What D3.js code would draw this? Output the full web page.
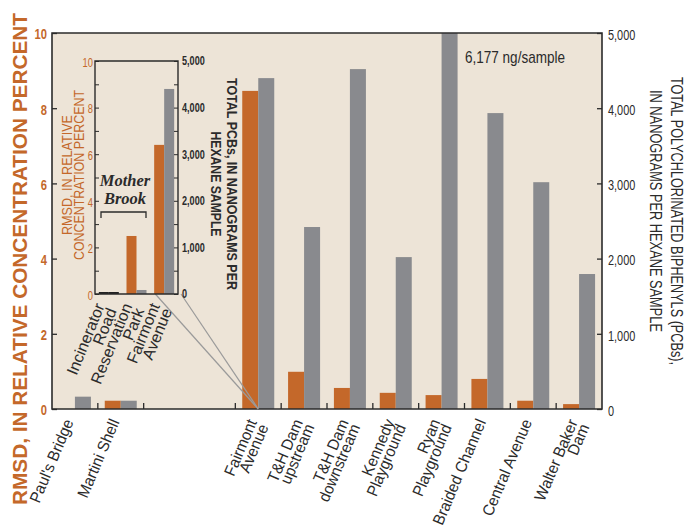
<!DOCTYPE html>
<html><head><meta charset="utf-8">
<script src="https://cdn.jsdelivr.net/npm/d3@7/dist/d3.min.js"></script>
<style>
html,body{margin:0;padding:0;background:#fff;}
svg{display:block;}
</style></head><body>
<svg id="chart" width="687" height="527" font-family="'Liberation Sans', Arial, sans-serif"></svg>
<script>
// ---------- DATA ----------
const mainSites = ["Paul's Bridge","Martini Shell","gap1","gap2","Fairmont Avenue","T&H Dam upstream","T&H Dam downstream","Kennedy Playground","Ryan Playground","Braided Channel","Central Avenue","Walter Baker Dam"];
const mainLabels = [["Paul's Bridge"],["Martini Shell"],[],[],["Fairmont","Avenue"],["T&H Dam","upstream"],["T&H Dam","downstream"],["Kennedy","Playground"],["Ryan","Playground"],["Braided Channel"],["Central Avenue"],["Walter Baker","Dam"]];
const mainRmsd = [null,0.22,null,null,8.46,0.99,0.56,0.43,0.37,0.80,0.22,0.13];
const mainPcb  = [164,110,null,null,4400,2420,4520,2020,6177,3935,3016,1795];

const insetSites = ["Incinerator Road","Reservation Park","Fairmont Avenue"];
const insetLabels = [["Incinerator","Road"],["Reservation","Park"],["Fairmont","Avenue"]];
const insetRmsd = [0.03,2.49,6.4];
const insetPcb  = [15,86,4400];

const rmsdTicks = [0,2,4,6,8,10];
const pcbTicks = [0,1000,2000,3000,4000,5000];
const annotation = "6,177 ng/sample";

// ---------- STYLE ----------
const ORANGE = "#C4682A", GRAY = "#898A8E", BG = "#EDE4D7", INK = "#2b2b2b";
const svg = d3.select("#chart");

// ---------- MAIN ----------
const M = {l:52, r:602, t:33, b:409};
const x = d3.scaleBand().domain(mainSites).range([M.l, M.r]).padding(0);
const yL = d3.scaleLinear().domain([0,10]).range([M.b, M.t]);
const yR = d3.scaleLinear().domain([0,5000]).range([M.b, M.t]);
const bw = 16;

svg.append("rect").attr("x",M.l).attr("y",M.t).attr("width",M.r-M.l).attr("height",M.b-M.t).attr("fill",BG);
svg.append("clipPath").attr("id","clipMain").append("rect").attr("x",M.l).attr("y",M.t).attr("width",M.r-M.l).attr("height",M.b-M.t);

const gBars = svg.append("g").attr("clip-path","url(#clipMain)");
mainSites.forEach((s,i)=>{
  const c = x(s) + x.bandwidth()/2;
  if (mainRmsd[i]!=null && mainRmsd[i]>0)
    gBars.append("rect").attr("x",c-bw).attr("width",bw).attr("y",yL(mainRmsd[i])).attr("height",yL(0)-yL(mainRmsd[i])).attr("fill",ORANGE);
  if (mainPcb[i]!=null)
    gBars.append("rect").attr("x",c).attr("width",bw).attr("y",yR(Math.min(mainPcb[i],5000))).attr("height",yR(0)-yR(Math.min(mainPcb[i],5000))).attr("fill",GRAY);
});

// x ticks between slots (skip boundaries between two empty slots)
const gx = svg.append("g").attr("stroke",INK).attr("stroke-width",1.3);
for (let i=1;i<mainSites.length;i++){
  if (mainSites[i-1].startsWith("gap") && mainSites[i].startsWith("gap")) continue;
  const bx = x(mainSites[i]);
  gx.append("line").attr("x1",bx).attr("x2",bx).attr("y1",M.b).attr("y2",M.b-6);
}

// left axis
const axL = svg.append("g").attr("transform",`translate(${M.l},0)`)
  .call(d3.axisLeft(yL).tickValues(rmsdTicks).tickSize(-5).tickFormat(d3.format("d")));
axL.select(".domain").remove();
axL.selectAll(".tick line").attr("stroke",INK).attr("stroke-width",1.3);
axL.selectAll("text").attr("fill",ORANGE).attr("font-size",14).attr("font-weight","bold")
  .attr("x",0).attr("dy","0.42em").attr("transform","translate(-5,0) scale(0.8,1)");

// right axis
const axR = svg.append("g").attr("transform",`translate(${M.r},0)`)
  .call(d3.axisRight(yR).tickValues(pcbTicks).tickSize(-5).tickFormat(d3.format(",")));
axR.select(".domain").remove();
axR.selectAll(".tick line").attr("stroke",INK).attr("stroke-width",1.3);
axR.selectAll("text").attr("fill",INK).attr("font-size",14)
  .attr("x",0).attr("dy","0.45em").attr("transform","translate(6,0) scale(0.78,1)");

// frame
svg.append("path").attr("d",`M${M.l},${M.b}V${M.t}H${M.r}V${M.b}H${M.l}Z`).attr("fill","none").attr("stroke",INK).attr("stroke-width",1.6);

// x labels
mainSites.forEach((s,i)=>{
  const lines = mainLabels[i]; if(!lines.length) return;
  const c = x(s)+x.bandwidth()/2;
  const t = svg.append("text").attr("transform",`translate(${c-1},${M.b+13}) rotate(-67) scale(0.95,1)`)
    .attr("text-anchor","end").attr("font-size",16).attr("fill",INK);
  lines.forEach((ln,k)=> t.append("tspan").attr("x",0).attr("dy",k?12.5:0).text(ln));
});

// annotation
svg.append("text").attr("x",465).attr("y",63).attr("font-size",17).attr("fill",INK).attr("textLength",100).attr("lengthAdjust","spacingAndGlyphs").text(annotation);

// axis titles
svg.append("text").attr("transform","translate(27,259) rotate(-90)").attr("text-anchor","middle")
  .attr("font-size",20).attr("font-weight","bold").attr("fill",ORANGE).attr("textLength",492).attr("lengthAdjust","spacingAndGlyphs")
  .text("RMSD, IN RELATIVE CONCENTRATION PERCENT");
svg.append("text").attr("transform","translate(671,77) rotate(90)").attr("font-size",16.5).attr("fill",INK)
  .attr("textLength",288).attr("lengthAdjust","spacingAndGlyphs").text("TOTAL POLYCHLORINATED BIPHENYLS (PCBs),");
svg.append("text").attr("transform","translate(650,90) rotate(90)").attr("font-size",16.5).attr("fill",INK)
  .attr("textLength",242).attr("lengthAdjust","spacingAndGlyphs").text("IN NANOGRAMS PER HEXANE SAMPLE");

// ---------- INSET ----------
const I = {l:95, r:178, t:61, b:294};
const xi = d3.scaleBand().domain(insetSites).range([I.l, I.r]).padding(0);
const yiL = d3.scaleLinear().domain([0,10]).range([I.b, I.t]);
const yiR = d3.scaleLinear().domain([0,5000]).range([I.b, I.t]);
const ibw = 10;

// connector lines
const fi = xi("Fairmont Avenue");
const mainF = x("Fairmont Avenue")+x.bandwidth()/2;
svg.append("line").attr("x1",fi+5).attr("y1",I.b).attr("x2",mainF).attr("y2",M.b).attr("stroke","#9a9a9a").attr("stroke-width",1.2);
svg.append("line").attr("x1",I.r+3).attr("y1",I.b).attr("x2",mainF).attr("y2",M.b).attr("stroke","#9a9a9a").attr("stroke-width",1.2);

insetSites.forEach((s,i)=>{
  const c = xi(s)+xi.bandwidth()/2;
  const ho = yiL(0)-yiL(insetRmsd[i]), hg = yiR(0)-yiR(insetPcb[i]);
  const tiny = ho<2 && hg<2;
  svg.append("rect").attr("x",c-ibw).attr("width",ibw).attr("y",I.b-Math.max(ho,tiny?2:0)).attr("height",Math.max(ho,tiny?2:0)).attr("fill",tiny?"#222":ORANGE);
  svg.append("rect").attr("x",c).attr("width",ibw).attr("y",I.b-Math.max(hg,tiny?2:0)).attr("height",Math.max(hg,tiny?2:0)).attr("fill",tiny?"#222":GRAY);
});

const iaxL = svg.append("g").attr("transform",`translate(${I.l},0)`)
  .call(d3.axisLeft(yiL).ticks(10).tickSize(-4).tickFormat(d=> d%2===0? d : ""));
iaxL.select(".domain").remove();
iaxL.selectAll(".tick line").attr("stroke",INK);
iaxL.selectAll("text").attr("fill",ORANGE).attr("font-size",13)
  .attr("x",0).attr("dy","0.4em").attr("transform","translate(-2,0) scale(0.72,1)");

const iaxR = svg.append("g").attr("transform",`translate(${I.r},0)`)
  .call(d3.axisRight(yiR).tickValues(d3.range(0,5001,500)).tickSize(-4).tickFormat(d=> d%1000===0? d3.format(",")(d) : ""));
iaxR.select(".domain").remove();
iaxR.selectAll(".tick line").attr("stroke",INK);
iaxR.selectAll("text").attr("fill",INK).attr("font-size",13).attr("font-weight","bold")
  .attr("x",0).attr("dy","0.3em").attr("transform","translate(4,0) scale(0.7,1)");

svg.append("path").attr("d",`M${I.l},${I.b}V${I.t}H${I.r}V${I.b}H${I.l}Z`).attr("fill","none").attr("stroke",INK).attr("stroke-width",1.4);

insetSites.forEach((s,i)=>{
  const c = xi(s)+xi.bandwidth()/2;
  const t = svg.append("text").attr("transform",`translate(${c-4},${I.b+12}) rotate(-68)`)
    .attr("text-anchor","end").attr("font-size",16).attr("fill",INK);
  insetLabels[i].forEach((ln,k)=> t.append("tspan").attr("x",0).attr("dy",k?13:0).text(ln));
});

// inset titles
const il = svg.append("g").attr("transform","translate(72,175) rotate(-90)");
il.append("text").attr("text-anchor","middle").attr("font-size",15).attr("fill",ORANGE).attr("textLength",120).attr("lengthAdjust","spacingAndGlyphs").text("RMSD, IN RELATIVE");
il.append("text").attr("y",12).attr("text-anchor","middle").attr("font-size",15).attr("fill",ORANGE).attr("textLength",170).attr("lengthAdjust","spacingAndGlyphs").text("CONCENTRATION PERCENT");
const ir = svg.append("g").attr("transform","translate(227,184) rotate(90)");
ir.append("text").attr("text-anchor","middle").attr("font-size",15).attr("font-weight","bold").attr("fill",INK).attr("textLength",212).attr("lengthAdjust","spacingAndGlyphs").text("TOTAL PCBs, IN NANOGRAMS PER");
ir.append("text").attr("y",16).attr("text-anchor","middle").attr("font-size",15).attr("font-weight","bold").attr("fill",INK).attr("textLength",105).attr("lengthAdjust","spacingAndGlyphs").text("HEXANE SAMPLE");

// Mother Brook
const mb = svg.append("text").attr("text-anchor","middle").attr("font-family","'Liberation Serif','DejaVu Serif',serif")
  .attr("font-size",16.5).attr("font-weight","bold").attr("font-style","italic").attr("fill",INK);
mb.append("tspan").attr("x",125).attr("y",186).text("Mother");
mb.append("tspan").attr("x",125).attr("y",204).text("Brook");
svg.append("path").attr("d","M101,218V212H146V218").attr("fill","none").attr("stroke",INK).attr("stroke-width",1.3);
</script></body></html>
